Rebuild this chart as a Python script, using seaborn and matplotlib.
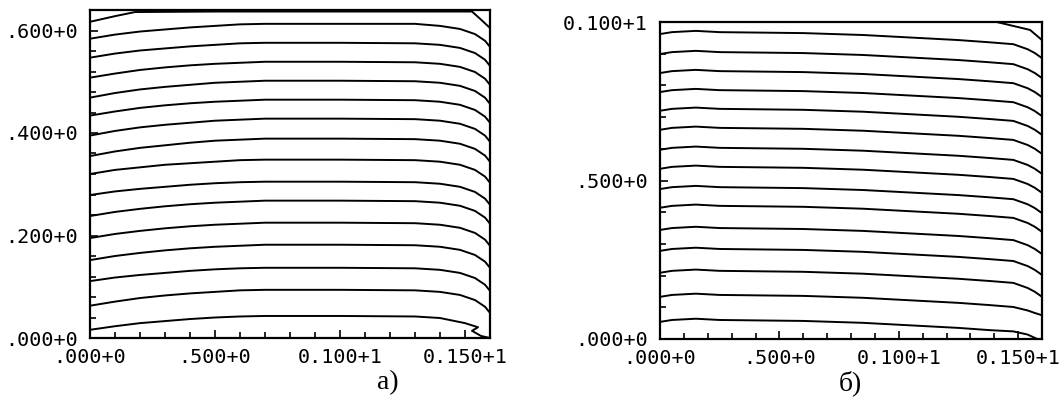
import matplotlib
matplotlib.use("Agg")
import matplotlib.pyplot as plt
from matplotlib.ticker import MultipleLocator, FixedLocator
import pandas as pd
import seaborn as sns

# ---------------- data: panel a) ----------------
A_X = [0, 0.1, 0.2, 0.3, 0.4, 0.5, 0.6, 0.7, 1.0, 1.3, 1.4, 1.48, 1.54, 1.58, 1.6]
A_TOP_X = [0, 0.1, 0.18, 0.5, 1.0, 1.528, 1.56, 1.6]
A_TOP_Y = [0.617, 0.628, 0.636, 0.637, 0.637, 0.637, 0.623, 0.605]
A_02 = [0.584, 0.592, 0.598, 0.602, 0.606, 0.609, 0.612, 0.613, 0.613, 0.613, 0.609, 0.603, 0.593, 0.580, 0.568]
A_03 = [0.547, 0.555, 0.561, 0.565, 0.569, 0.572, 0.575, 0.576, 0.576, 0.575, 0.572, 0.566, 0.556, 0.543, 0.531]
A_04 = [0.508, 0.516, 0.523, 0.528, 0.532, 0.535, 0.537, 0.539, 0.539, 0.538, 0.535, 0.529, 0.519, 0.506, 0.494]
A_05 = [0.469, 0.478, 0.485, 0.490, 0.494, 0.498, 0.500, 0.502, 0.502, 0.501, 0.498, 0.492, 0.482, 0.469, 0.457]
A_06 = [0.434, 0.442, 0.449, 0.454, 0.458, 0.461, 0.463, 0.465, 0.465, 0.464, 0.461, 0.455, 0.445, 0.432, 0.420]
A_07 = [0.395, 0.404, 0.411, 0.416, 0.420, 0.424, 0.426, 0.428, 0.428, 0.427, 0.424, 0.418, 0.408, 0.395, 0.383]
A_08 = [0.355, 0.364, 0.371, 0.376, 0.381, 0.385, 0.387, 0.389, 0.389, 0.388, 0.385, 0.379, 0.369, 0.356, 0.344]
A_09 = [0.320, 0.328, 0.333, 0.338, 0.341, 0.344, 0.347, 0.348, 0.348, 0.347, 0.344, 0.338, 0.328, 0.315, 0.303]
A_10 = [0.279, 0.286, 0.291, 0.295, 0.299, 0.302, 0.304, 0.305, 0.305, 0.304, 0.301, 0.295, 0.285, 0.272, 0.260]
A_11 = [0.238, 0.246, 0.252, 0.257, 0.261, 0.264, 0.266, 0.268, 0.268, 0.267, 0.264, 0.258, 0.248, 0.235, 0.223]
A_12 = [0.195, 0.203, 0.209, 0.214, 0.218, 0.221, 0.223, 0.225, 0.225, 0.224, 0.221, 0.215, 0.205, 0.192, 0.180]
A_13 = [0.152, 0.160, 0.166, 0.171, 0.175, 0.178, 0.180, 0.182, 0.182, 0.181, 0.178, 0.172, 0.162, 0.149, 0.137]
A_14 = [0.111, 0.118, 0.123, 0.127, 0.131, 0.134, 0.136, 0.137, 0.137, 0.136, 0.133, 0.127, 0.117, 0.104, 0.092]
A_15 = [0.063, 0.071, 0.078, 0.083, 0.087, 0.090, 0.093, 0.094, 0.094, 0.093, 0.090, 0.084, 0.074, 0.061, 0.049]
A_BOT_X = [0, 0.1, 0.2, 0.3, 0.4, 0.5, 0.6, 0.7, 1.0, 1.3, 1.4, 1.5, 1.552, 1.528, 1.564, 1.6]
A_BOT_Y = [0.016, 0.023, 0.029, 0.033, 0.037, 0.040, 0.042, 0.043, 0.043, 0.042, 0.039, 0.029, 0.021, 0.014, 0.004, 0.0]

# ---------------- data: panel б) ----------------
B_X = [0, 0.05, 0.15, 0.25, 0.6, 0.85, 1.1, 1.25, 1.38, 1.48, 1.54, 1.57, 1.6]
B_01 = [0.962, 0.968, 0.972, 0.968, 0.965, 0.959, 0.949, 0.943, 0.936, 0.930, 0.914, 0.902, 0.886]
B_02 = [0.899, 0.905, 0.909, 0.905, 0.902, 0.896, 0.886, 0.880, 0.873, 0.867, 0.851, 0.839, 0.823]
B_03 = [0.839, 0.845, 0.849, 0.845, 0.842, 0.836, 0.826, 0.820, 0.813, 0.807, 0.791, 0.779, 0.763]
B_04 = [0.779, 0.785, 0.789, 0.785, 0.782, 0.776, 0.766, 0.760, 0.753, 0.747, 0.731, 0.719, 0.703]
B_05 = [0.720, 0.726, 0.730, 0.726, 0.723, 0.717, 0.707, 0.701, 0.694, 0.688, 0.672, 0.660, 0.644]
B_06 = [0.660, 0.666, 0.670, 0.666, 0.663, 0.657, 0.647, 0.641, 0.634, 0.628, 0.612, 0.600, 0.584]
B_07 = [0.597, 0.603, 0.607, 0.603, 0.600, 0.594, 0.584, 0.578, 0.571, 0.565, 0.549, 0.537, 0.521]
B_08 = [0.537, 0.543, 0.547, 0.543, 0.540, 0.534, 0.524, 0.518, 0.511, 0.505, 0.489, 0.477, 0.461]
B_09 = [0.473, 0.479, 0.483, 0.479, 0.476, 0.470, 0.460, 0.454, 0.447, 0.441, 0.425, 0.413, 0.397]
B_10 = [0.414, 0.420, 0.424, 0.420, 0.417, 0.411, 0.401, 0.395, 0.388, 0.382, 0.366, 0.354, 0.338]
B_11 = [0.344, 0.350, 0.354, 0.350, 0.347, 0.341, 0.331, 0.325, 0.318, 0.312, 0.296, 0.284, 0.268]
B_12 = [0.278, 0.284, 0.288, 0.284, 0.281, 0.275, 0.265, 0.259, 0.252, 0.246, 0.230, 0.218, 0.202]
B_13 = [0.209, 0.215, 0.219, 0.215, 0.212, 0.206, 0.196, 0.190, 0.183, 0.177, 0.161, 0.149, 0.133]
B_14 = [0.133, 0.139, 0.143, 0.139, 0.136, 0.130, 0.120, 0.114, 0.107, 0.101, 0.090, 0.082, 0.075]
B_15_X = [0, 0.05, 0.15, 0.25, 0.6, 0.85, 1.1, 1.25, 1.38, 1.48, 1.54, 1.58]
B_15_Y = [0.054, 0.060, 0.064, 0.060, 0.057, 0.051, 0.041, 0.035, 0.028, 0.024, 0.014, 0.0]
B_TOP_X = [1.41, 1.55, 1.6]
B_TOP_Y = [1.0, 0.975, 0.943]

# ---------------- tick labels / captions ----------------
X_TICKS = [0.0, 0.5, 1.0, 1.5]
X_LABELS = [".000+0", ".500+0", "0.100+1", "0.150+1"]
A_Y_TICKS = [0.0, 0.2, 0.4, 0.6]
A_Y_LABELS = [".000+0", ".200+0", ".400+0", ".600+0"]
B_Y_TICKS = [0.0, 0.5, 1.0]
B_Y_LABELS = [".000+0", ".500+0", "0.100+1"]
CAPTIONS = ["а)", "б)"]


def build(lines):
    rows = []
    for lid, (xs, ys) in enumerate(lines):
        for k, (x, y) in enumerate(zip(xs, ys)):
            rows.append({"line": lid, "order": k, "x": x, "y": y})
    return pd.DataFrame(rows)


df_a = build([(A_TOP_X, A_TOP_Y)] +
             [(A_X, v) for v in (A_02, A_03, A_04, A_05, A_06, A_07, A_08,
                                 A_09, A_10, A_11, A_12, A_13, A_14, A_15)] +
             [(A_BOT_X, A_BOT_Y)])
df_b = build([(B_X, v) for v in (B_01, B_02, B_03, B_04, B_05, B_06, B_07,
                                 B_08, B_09, B_10, B_11, B_12, B_13, B_14)] +
             [(B_15_X, B_15_Y), (B_TOP_X, B_TOP_Y)])

sns.set_theme(style="white")
plt.rcParams["font.family"] = ["DejaVu Sans Mono", "DejaVu Sans"]

fig = plt.figure(figsize=(10.63, 4.0), dpi=100)
ax_a = fig.add_axes([90 / 1063, 62 / 400, 400 / 1063, 328 / 400])
ax_b = fig.add_axes([660 / 1063, 61 / 400, 382 / 1063, 317 / 400])

for ax, df, ymax, yt, yl, ymin_step in ((ax_a, df_a, 0.64, A_Y_TICKS, A_Y_LABELS, 0.04),
                                        (ax_b, df_b, 1.0, B_Y_TICKS, B_Y_LABELS, 0.1)):
    sns.lineplot(data=df, x="x", y="y", units="line", estimator=None, sort=False,
                 color="black", linewidth=1.4, ax=ax, legend=False)
    ax.set_xlim(0, 1.6)
    ax.set_ylim(0, ymax)
    ax.set_xlabel("")
    ax.set_ylabel("")
    ax.xaxis.set_major_locator(FixedLocator(X_TICKS))
    ax.set_xticklabels(X_LABELS)
    ax.xaxis.set_minor_locator(MultipleLocator(0.1))
    ax.yaxis.set_major_locator(FixedLocator(yt))
    ax.set_yticklabels(yl)
    ax.yaxis.set_minor_locator(MultipleLocator(ymin_step))
    for s in ax.spines.values():
        s.set_visible(True)
        s.set_color("black")
        s.set_linewidth(1.6)
    ax.tick_params(which="both", direction="in", color="black", width=1.2,
                   bottom=True, left=True, top=False, right=False)
    ax.tick_params(which="major", length=6, labelsize=14.5, labelcolor="black")
    ax.tick_params(which="minor", length=4)
    ax.tick_params(axis="x", which="major", pad=7)
    ax.tick_params(axis="y", which="major", pad=9)
    ax.set_facecolor("white")

fig.text(388 / 1063, 1 - 383 / 400, CAPTIONS[0], family="Liberation Serif",
         fontsize=20, ha="center", va="center", color="black")
fig.text(850 / 1063, 1 - 383 / 400, CAPTIONS[1], family="Liberation Serif",
         fontsize=20, ha="center", va="center", color="black")

fig.savefig("out.png", dpi=100, facecolor="white")
